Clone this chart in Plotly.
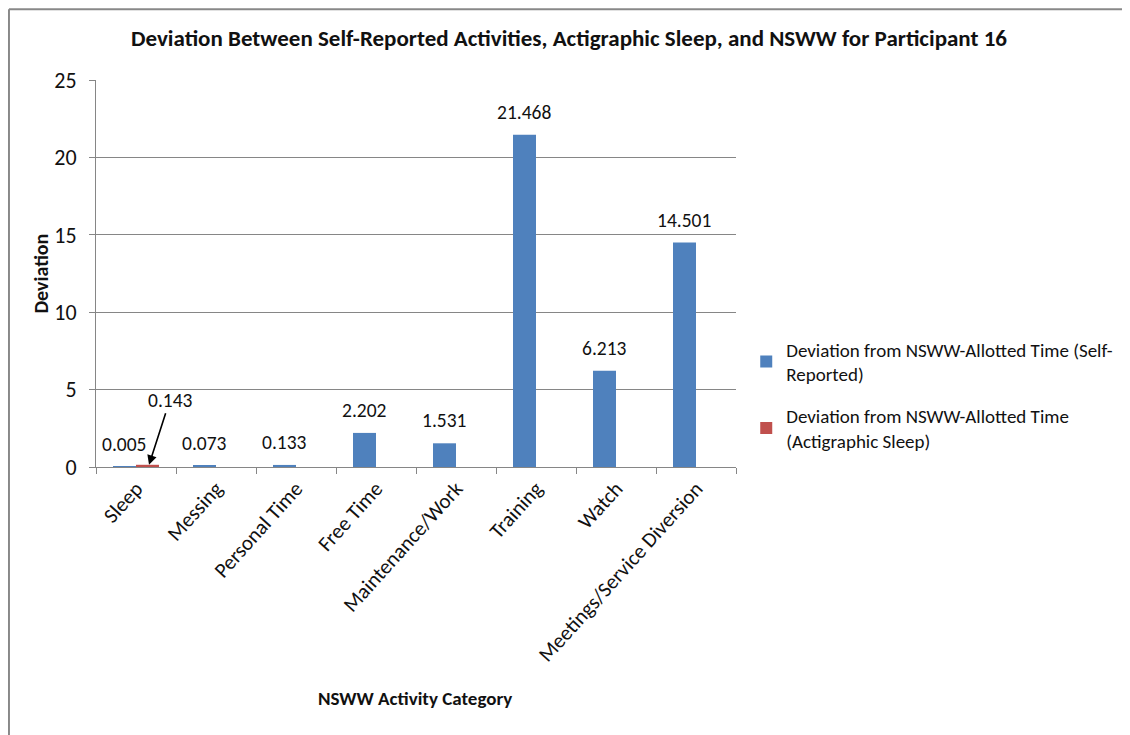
import plotly.graph_objects as go

categories = ["Sleep", "Messing", "Personal Time", "Free Time", "Maintenance/Work",
              "Training", "Watch", "Meetings/Service Diversion"]
self_reported = [0.005, 0.073, 0.133, 2.202, 1.531, 21.468, 6.213, 14.501]
actigraphic = [0.143, None, None, None, None, None, None, None]
series_names = ["Deviation from NSWW-Allotted Time (Self-<br>Reported)",
                "Deviation from NSWW-Allotted Time<br>(Actigraphic Sleep)"]
y_ticks = [0, 5, 10, 15, 20, 25]

FONT = "Carlito, Calibri, 'Liberation Sans Narrow', 'DejaVu Sans Condensed', sans-serif"
BLUE = "#4F81BD"
RED = "#C0504D"
GRID = "#868686"
TXT = "#111111"

fig = go.Figure()
fig.add_trace(go.Bar(x=categories, y=self_reported, name=series_names[0], legendgroup="a",
                     marker=dict(color=BLUE, line=dict(width=0))))
fig.add_trace(go.Bar(x=categories, y=actigraphic, name=series_names[1], legendgroup="b",
                     marker=dict(color=RED, line=dict(width=0))))

annotations = []
for c, v in zip(categories, self_reported):
    annotations.append(dict(x=c, y=v, xref="x", yref="y", text=f"{v:.3f}",
                            showarrow=False, xshift=-12, yshift=23,
                            font=dict(family=FONT, size=19.5, color=TXT)))
# moved label with arrow for the actigraphic sleep value
annotations.append(dict(x=categories[0], y=actigraphic[0], xref="x", yref="y",
                        text=f"{actigraphic[0]:.3f}", showarrow=True,
                        arrowhead=2, arrowsize=1.2, arrowwidth=1.6, arrowcolor="#000",
                        ax=21, ay=-65, xshift=13,
                        font=dict(family=FONT, size=19.5, color=TXT)))
# axis titles
annotations.append(dict(x=0.498, y=-0.597, xref="paper", yref="paper",
                        xanchor="center", yanchor="middle",
                        text="<b>NSWW Activity Category</b>", showarrow=False,
                        font=dict(family=FONT, size=19, color=TXT)))
annotations.append(dict(x=-0.0875, y=0.5, xref="paper", yref="paper",
                        xanchor="center", yanchor="middle",
                        text="<b>Deviation</b>", showarrow=False, textangle=-90,
                        font=dict(family=FONT, size=20, color=TXT)))

BORDER = dict(color="#888888", width=2)
fig.update_layout(
    width=1122, height=727,
    margin=dict(l=88, r=394, t=72, b=268, autoexpand=False),
    paper_bgcolor="white", plot_bgcolor="white",
    barmode="group", bargap=0.425, bargroupgap=0,
    title=dict(text="<b>Deviation Between Self-Reported Activities, Actigraphic Sleep, and NSWW for Participant 16</b>",
               x=0.5, xanchor="center", y=1 - 30 / 727, yanchor="middle",
               font=dict(family=FONT, size=23, color=TXT)),
    font=dict(family=FONT, size=19, color=TXT),
    showlegend=True,
    legend=dict(x=1.016, xanchor="left", y=0.353, yanchor="top",
                bgcolor="rgba(0,0,0,0)", tracegroupgap=14,
                font=dict(family=FONT, size=19, color=TXT)),
    annotations=annotations,
    shapes=[dict(type="line", xref="paper", yref="paper",
                 x0=-0.136, x1=-0.136, y0=-0.75, y1=1.183, line=BORDER),
            dict(type="line", xref="paper", yref="paper",
                 x0=-0.136, x1=1.75, y0=1.183, y1=1.183, line=BORDER)],
)
fig.update_xaxes(type="category", tickangle=-48, ticks="outside", ticklen=6,
                 tickcolor=GRID, tickson="boundaries", showline=True, linecolor=GRID,
                 linewidth=1, showgrid=False, automargin=False,
                 tickfont=dict(family=FONT, size=21, color=TXT))
fig.update_yaxes(range=[0, 25], tickvals=y_ticks, ticks="outside", ticklen=6,
                 tickcolor=GRID, showline=True, linecolor=GRID, linewidth=1,
                 showgrid=True, gridcolor=GRID, gridwidth=1, zeroline=False,
                 ticklabelstandoff=8, automargin=False,
                 tickfont=dict(family=FONT, size=22, color=TXT))

fig.write_html("out.html")
